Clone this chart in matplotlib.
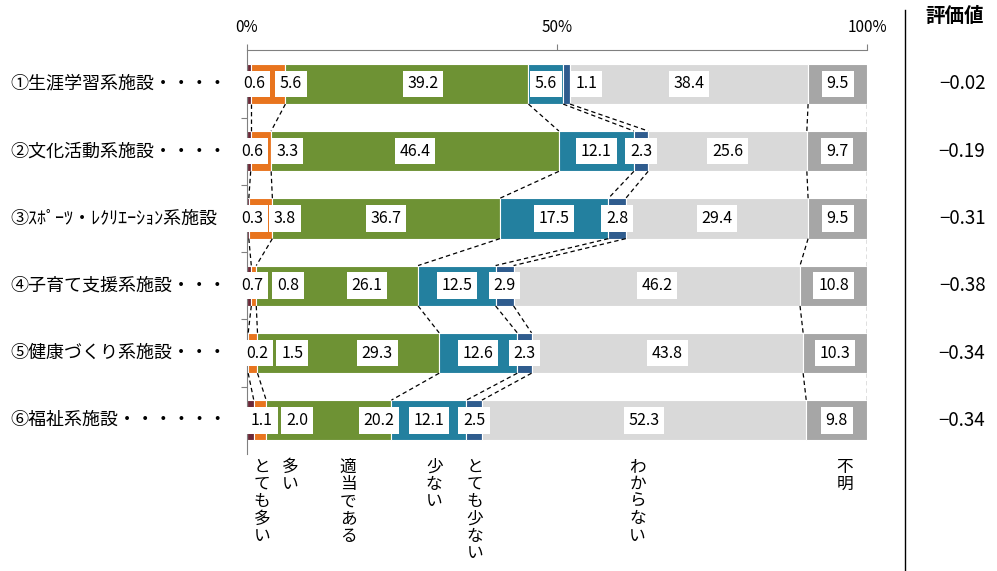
import matplotlib
matplotlib.use("Agg")
import matplotlib.pyplot as plt
import matplotlib.transforms as mtransforms
import numpy as np

plt.rcParams['font.family'] = ['Noto Sans CJK JP', 'DejaVu Sans']

# --- data -------------------------------------------------------------
facilities = [
    "①生涯学習系施設・・・・",
    "②文化活動系施設・・・・",
    "③ｽﾎﾟｰﾂ・ﾚｸﾘｴｰｼｮﾝ系施設",
    "④子育て支援系施設・・・",
    "⑤健康づくり系施設・・・",
    "⑥福祉系施設・・・・・・",
]
responses = ["とても多い", "多い", "適当である", "少ない", "とても少ない", "わからない", "不明"]

very_many = [0.6, 0.6, 0.3, 0.7, 0.2, 1.1]
many = [5.6, 3.3, 3.8, 0.8, 1.5, 2.0]
adequate = [39.2, 46.4, 36.7, 26.1, 29.3, 20.2]
few = [5.6, 12.1, 17.5, 12.5, 12.6, 12.1]
very_few = [1.1, 2.3, 2.8, 2.9, 2.3, 2.5]
unknown = [38.4, 25.6, 29.4, 46.2, 43.8, 52.3]
no_answer = [9.5, 9.7, 9.5, 10.8, 10.3, 9.8]

scores = ["−0.02", "−0.19", "−0.31", "−0.38", "−0.34", "−0.34"]
tick_values = [0, 50, 100]
tick_labels = ["0%", "50%", "100%"]

# --- styling ------------------------------------------------------------
colors = ["#6B2838", "#E8741E", "#6E9234", "#23809F", "#2F5C8E", "#D9D9D9", "#A6A6A6"]
bar_h = 0.6

# label positions (percent axis) for labels moved off their segment centre
label_x = [
    [1.1, 7.1, 28.4, None, 54.7, None, None],
    [0.8, 6.5, None, None, None, None, None],
    [0.8, 6.1, None, None, None, None, None],
    [0.8, 6.6, 19.4, None, None, None, None],
    [1.6, 7.3, 21.0, None, None, None, None],
    [2.4, 8.1, 21.3, None, None, None, None],
]
# x position (percent axis) of each vertical category caption under the chart
caption_x = [2.4, 6.9, 16.3, 30.2, 36.8, 63.0, 96.4]

series = [very_many, many, adequate, few, very_few, unknown, no_answer]
vals = np.array(series).T  # rows = facilities
n = len(facilities)
ypos = np.arange(n)

fig = plt.figure(figsize=(9.97, 5.71), dpi=100)
ax = fig.add_axes([0.2477, 0.205, 0.6219, 0.707])

left = np.zeros(n)
for k, s in enumerate(series):
    ax.barh(ypos, s, left=left, height=bar_h, color=colors[k],
            edgecolor="white", linewidth=0.8, zorder=2)
    left = left + np.array(s)

cum = np.cumsum(vals, axis=1)
starts = cum - vals

# series lines connecting segment boundaries of neighbouring bars
for i in range(n - 1):
    for k in range(vals.shape[1]):
        ax.plot([cum[i, k], cum[i + 1, k]],
                [ypos[i] + bar_h / 2, ypos[i + 1] - bar_h / 2],
                color="black", linestyle=(0, (3.5, 2.5)), linewidth=0.9, zorder=3)

# value labels in white boxes
for i in range(n):
    for k in range(vals.shape[1]):
        x = label_x[i][k]
        if x is None:
            x = starts[i, k] + vals[i, k] / 2
        ax.text(x, ypos[i], f"{vals[i, k]:.1f}", ha="center", va="center",
                fontsize=11.5, color="black", zorder=5,
                bbox=dict(boxstyle="square,pad=0.3", facecolor="white",
                          edgecolor="none"))

ax.set_xlim(0, 100)
ax.set_ylim(n - 0.5, -0.5)

# top percent axis
ax.xaxis.tick_top()
ax.set_xticks(tick_values)
ax.set_xticklabels(tick_labels, fontsize=11)
ax.tick_params(axis="x", direction="out", length=4, color="#808080", pad=6)
ax.set_yticks(np.arange(n - 1) + 0.5)
ax.set_yticklabels([])
ax.tick_params(axis="y", direction="out", length=4, color="#808080")
for side in ["right", "bottom"]:
    ax.spines[side].set_visible(False)
ax.spines["top"].set_color("#808080")
ax.spines["left"].set_color("#808080")

# facility names on the left
trans = mtransforms.blended_transform_factory(fig.transFigure, ax.transData)
for i, name in enumerate(facilities):
    ax.text(0.01, ypos[i], name, transform=trans, ha="left", va="center",
            fontsize=13, color="black", clip_on=False)

# evaluation scores on the right
for i, sc in enumerate(scores):
    ax.text(0.965, ypos[i], sc, transform=trans, ha="center", va="center",
            fontsize=13.5, color="black", clip_on=False)
fig.text(0.958, 0.972, "評価値", ha="center", va="center", fontsize=14,
         fontweight="bold", color="black")
fig.add_artist(plt.Line2D([0.9078, 0.9078], [0.0, 0.982], transform=fig.transFigure,
                          color="black", linewidth=1.0))

# vertical category captions below the bars
for x, word in zip(caption_x, responses):
    ax.text(x, n - 0.5 + 0.07, "\n".join(word), ha="center", va="top",
            fontsize=12, linespacing=1.02, color="black", clip_on=False)

fig.savefig("out.png", dpi=100, facecolor="white")
